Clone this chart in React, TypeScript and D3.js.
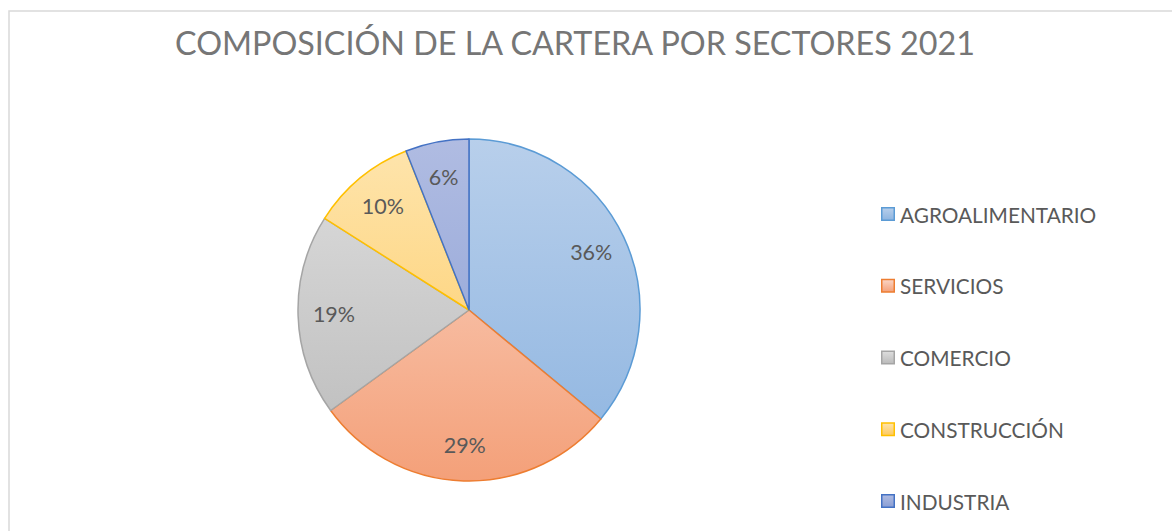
import React, { useRef, useEffect } from "react";
import * as d3 from "d3";

// sector shares
const sectors = ["AGROALIMENTARIO", "SERVICIOS", "COMERCIO", "CONSTRUCCIÓN", "INDUSTRIA"];
const shares = [36, 29, 19, 10, 6];
const strokeColors = ["#5b9bd5", "#ed7d31", "#a5a5a5", "#ffc000", "#4472c4"];
const topColors = ["#b8cfeb", "#fad6c6", "#dedede", "#fee5ae", "#b0bce2"];
const bottomColors = ["#8db4e0", "#f4a079", "#bababa", "#fdc95e", "#8a9ed4"];

const title = "COMPOSICIÓN DE LA CARTERA POR SECTORES 2021";

const App = () => {
  const svgRef = useRef(null);
  const pieRef = useRef(null);
  const legendRef = useRef(null);

  const width = 1172;
  const height = 531;
  const cx = 469;
  const cy = 310;
  const radius = 171;

  useEffect(() => {
    const data = sectors.map((name, i) => ({
      name: name,
      value: shares[i],
      stroke: strokeColors[i],
      id: "grad" + i,
    }));

    const pie = d3.pie().sort(null).value((d) => d.value);
    const arc = d3.arc().innerRadius(0).outerRadius(radius);
    const labelArc = d3.arc().innerRadius(radius * 0.79).outerRadius(radius * 0.79);

    // gradients, lighter at the top (pie group is translated to the centre)
    const defs = d3.select(svgRef.current).select("defs");
    defs.selectAll("*").remove();
    data.forEach((d, i) => {
      const g = defs
        .append("linearGradient")
        .attr("id", d.id)
        .attr("gradientUnits", "userSpaceOnUse")
        .attr("x1", 0)
        .attr("x2", 0)
        .attr("y1", -radius)
        .attr("y2", radius);
      g.append("stop").attr("offset", "0%").attr("stop-color", topColors[i]);
      g.append("stop").attr("offset", "100%").attr("stop-color", bottomColors[i]);

      const gl = defs
        .append("linearGradient")
        .attr("id", d.id + "L")
        .attr("x1", 0)
        .attr("x2", 0)
        .attr("y1", 0)
        .attr("y2", 1);
      gl.append("stop").attr("offset", "0%").attr("stop-color", topColors[i]);
      gl.append("stop").attr("offset", "100%").attr("stop-color", bottomColors[i]);
    });

    const body = d3.select(pieRef.current);
    body.selectAll("*").remove();
    body.attr("transform", `translate(${cx},${cy})`);

    const arcs = pie(data);

    body
      .selectAll("path")
      .data(arcs)
      .enter()
      .append("path")
      .attr("d", arc)
      .attr("fill", (d) => `url(#${d.data.id})`)
      .attr("stroke", (d) => d.data.stroke)
      .attr("stroke-width", 1.5)
      .attr("stroke-linejoin", "round");

    body
      .selectAll("text")
      .data(arcs)
      .enter()
      .append("text")
      .attr("x", (d) => labelArc.centroid(d)[0])
      .attr("y", (d) => labelArc.centroid(d)[1])
      .attr("text-anchor", "middle")
      .attr("dominant-baseline", "central")
      .attr("font-family", "Lato, 'Open Sans', sans-serif")
      .attr("font-size", 21.5)
      .attr("fill", "#595959")
      .text((d) => d.data.value + "%");

    // legend
    const y = d3.scaleLinear().domain([0, sectors.length - 1]).range([214, 501]);
    const legend = d3.select(legendRef.current);
    legend.selectAll("*").remove();
    const items = legend
      .selectAll("g")
      .data(data)
      .enter()
      .append("g")
      .attr("transform", (d, i) => `translate(881,${y(i)})`);

    items
      .append("rect")
      .attr("x", 0.75)
      .attr("y", -6.25)
      .attr("width", 12.5)
      .attr("height", 12.5)
      .attr("fill", (d) => `url(#${d.id}L)`)
      .attr("stroke", (d) => d.stroke)
      .attr("stroke-width", 1.5);

    items
      .append("text")
      .attr("x", 19)
      .attr("y", 0)
      .attr("dominant-baseline", "central")
      .attr("font-family", "Lato, 'Open Sans', sans-serif")
      .attr("font-size", 20.8)
      .attr("fill", "#595959")
      .text((d) => d.name);
  }, []);

  return (
    <svg
      ref={svgRef}
      width={width}
      height={height}
      style={{ position: "absolute", left: 0, top: 0, background: "#fff" }}
    >
      <defs></defs>
      <rect x={9} y={11} width={width + 20} height={height + 20} fill="#fff" stroke="#d9d9d9" strokeWidth={1.5} />
      <text
        x={575}
        y={42}
        textAnchor="middle"
        dominantBaseline="central"
        fontFamily="Lato, 'Open Sans', sans-serif"
        fontSize={32}
        fill="#767676"
        textLength={800}
        lengthAdjust="spacingAndGlyphs"
      >
        {title}
      </text>
      <g ref={pieRef}></g>
      <g ref={legendRef}></g>
    </svg>
  );
};

export default App;
